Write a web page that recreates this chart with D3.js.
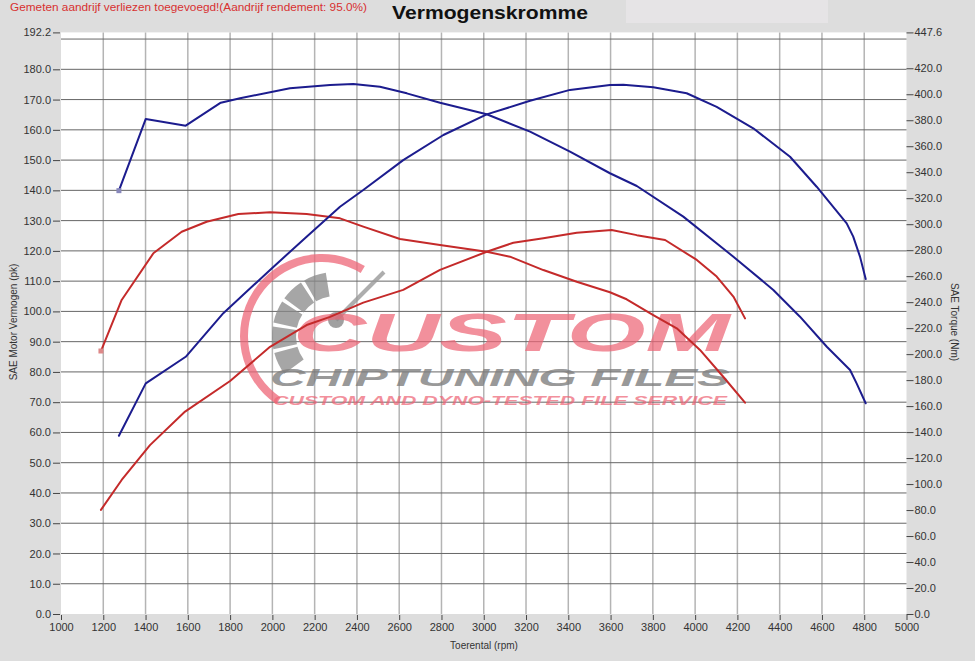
<!DOCTYPE html>
<html><head><meta charset="utf-8">
<script src="https://cdn.jsdelivr.net/npm/d3@7"></script>
<style>html,body{margin:0;padding:0;background:#dddddd;}svg{display:block;}</style>
</head><body>
<svg id="chart" width="975" height="661"></svg>
<script>
// ---- data ----
const xTicks = [1000,1200,1400,1600,1800,2000,2200,2400,2600,2800,3000,3200,3400,3600,3800,4000,4200,4400,4600,4800,5000];
const leftTicks = [0,10,20,30,40,50,60,70,80,90,100,110,120,130,140,150,160,170,180,192.2];
const rightTicks = [0,20,40,60,80,100,120,140,160,180,200,220,240,260,280,300,320,340,360,380,400,420,447.6];

const tunedPowerRpm = [1274,1401,1590,1768,1989,2162,2320,2430,2619,2809,3014,3219,3408,3597,3660,3802,3960,4102,4275,4449,4575,4717,4748,4780,4807];
const tunedPower = [58.9,76.2,85.0,99.4,113.7,124.7,134.6,140.1,150.0,158.3,165.1,169.6,173.2,174.8,174.9,174.1,172.1,167.6,160.5,151.1,141.2,129.1,124.7,118.1,110.7];

const tunedTorqueRpm = [1274,1401,1590,1756,1847,2083,2273,2383,2509,2636,2793,3014,3219,3408,3597,3724,3944,4181,4370,4496,4623,4733,4764,4807];
const tunedTorque = [325.8,381.0,375.8,393.5,396.9,404.6,407.1,407.9,405.8,400.7,393.5,384.6,371.2,355.8,339.2,329.4,305.8,275.0,249.4,228.8,205.7,187.8,177.5,162.2];

const stockPowerRpm = [1189,1287,1421,1587,1800,1989,2162,2273,2430,2619,2793,3014,3140,3282,3440,3605,3724,3858,4008,4102,4181,4236];
const stockPower = [34.4,44.3,55.8,66.9,77.0,88.3,95.5,98.2,102.9,107.1,113.7,119.7,122.7,124.2,126.0,126.9,125.2,123.6,117.0,111.5,104.9,97.7];

const stockTorqueRpm = [1189,1287,1437,1571,1689,1839,1989,2162,2320,2430,2604,2793,3014,3124,3282,3440,3597,3676,3802,3913,4023,4133,4236];
const stockTorque = [202.4,241.7,277.6,294.2,301.9,307.8,309.1,307.8,304.5,298.1,288.6,284.0,278.8,275.0,264.7,255.7,247.6,242.2,230.1,219.9,203.2,182.6,162.6];

// ---- chart ----
const svg = d3.select("#chart");
const W = 975, H = 661;
const L = 61, R = 906.5, T = 32.4, B = 614;
const x = d3.scaleLinear().domain([1000,5000]).range([L,R]);
const yL = d3.scaleLinear().domain([0,192.2]).range([B,T]);
const yR = d3.scaleLinear().domain([0,447.6]).range([B,T]);

svg.append("rect").attr("width",W).attr("height",H).attr("fill","#dddddd");
svg.append("rect").attr("x",626).attr("y",0).attr("width",202).attr("height",23).attr("fill","#e6e4e6");

svg.append("rect").attr("x",L).attr("y",T).attr("width",R-L).attr("height",B-T).attr("fill","#ffffff");

// vertical grid
svg.append("g").selectAll("line").data(xTicks.filter(d=>d>1000&&d<5000)).join("line")
  .attr("x1",d=>x(d)).attr("x2",d=>x(d)).attr("y1",T).attr("y2",B)
  .attr("stroke","#b4b4b4").attr("stroke-width",1.5);
// horizontal grid
svg.append("g").selectAll("line").data(d3.range(10,191,10)).join("line")
  .attr("x1",L).attr("x2",R).attr("y1",d=>yL(d)).attr("y2",d=>yL(d))
  .attr("stroke","#666").attr("stroke-width",1);

// watermark
const wm = svg.append("g");
const pinkArc = d3.arc().innerRadius(74).outerRadius(82)
  .startAngle(-2.55).endAngle(0.55);
wm.append("path").attr("d",pinkArc()).attr("transform","translate(322,336)")
  .attr("fill","#ee6677").attr("opacity",0.75);
d3.range(5).forEach(i=>{
  const a0 = -2.2 + i*0.42, a1 = a0 + 0.36;
  wm.append("path").attr("d", d3.arc().innerRadius(40).outerRadius(64).startAngle(a0).endAngle(a1)())
    .attr("transform","translate(336,336)").attr("fill","#888").attr("opacity",0.75);
});
wm.append("line").attr("x1",336).attr("y1",320).attr("x2",384).attr("y2",272)
  .attr("stroke","#999").attr("stroke-width",4).attr("opacity",0.8);
wm.append("circle").attr("cx",336).attr("cy",320).attr("r",8).attr("fill","#888").attr("opacity",0.8);
const wfont = "Liberation Sans, Arial, sans-serif";
wm.append("text").attr("x",293).attr("y",351).attr("textLength",437).attr("lengthAdjust","spacingAndGlyphs")
  .attr("font-family",wfont).attr("font-weight","bold").attr("font-style","italic")
  .attr("font-size",54).attr("fill","#ee6677").attr("opacity",0.72).text("CUSTOM");
wm.append("text").attr("x",270).attr("y",386).attr("textLength",460).attr("lengthAdjust","spacingAndGlyphs")
  .attr("font-family",wfont).attr("font-weight","bold").attr("font-style","italic")
  .attr("font-size",24).attr("fill","#808080").attr("opacity",0.8).text("CHIPTUNING FILES");
wm.append("text").attr("x",273).attr("y",405).attr("textLength",454).attr("lengthAdjust","spacingAndGlyphs")
  .attr("font-family",wfont).attr("font-weight","bold").attr("font-style","italic")
  .attr("font-size",13).attr("fill","#ee6677").attr("opacity",0.72).text("CUSTOM AND DYNO-TESTED FILE SERVICE");

// curves
const zip = (a,b)=>a.map((r,i)=>[r,b[i]]);
const lineL = d3.line().x(d=>x(d[0])).y(d=>yL(d[1]));
const lineR = d3.line().x(d=>x(d[0])).y(d=>yR(d[1]));
const blue = "#1c1c8e", red = "#c42a2a";
const curves = [
  {d: zip(stockTorqueRpm, stockTorque), l: lineR, c: red},
  {d: zip(stockPowerRpm, stockPower), l: lineL, c: red},
  {d: zip(tunedTorqueRpm, tunedTorque), l: lineR, c: blue},
  {d: zip(tunedPowerRpm, tunedPower), l: lineL, c: blue}
];
curves.forEach(cv=>{
  svg.append("path").attr("d",cv.l(cv.d)).attr("fill","none").attr("stroke",cv.c)
    .attr("stroke-width",2).attr("stroke-linejoin","round").attr("stroke-linecap","round");
});
// start markers
svg.append("rect").attr("x",x(tunedTorqueRpm[0])-2.5).attr("y",yR(tunedTorque[0])-2.5).attr("width",5).attr("height",5).attr("fill","#8888bb");
svg.append("rect").attr("x",x(stockTorqueRpm[0])-2.5).attr("y",yR(stockTorque[0])-2.5).attr("width",5).attr("height",5).attr("fill","#dd8888");

// axes
const font = "Liberation Sans, Arial, sans-serif";
const axL = d3.axisLeft(yL).tickValues(leftTicks).tickFormat(d=>d.toFixed(1)).tickSize(7).tickPadding(2);
const gL = svg.append("g").attr("transform",`translate(${L-1},0)`).call(axL);
const axR = d3.axisRight(yR).tickValues(rightTicks).tickFormat(d=>d.toFixed(1)).tickSize(7).tickPadding(1);
const gR = svg.append("g").attr("transform",`translate(${R},0)`).call(axR);
const axB = d3.axisBottom(x).tickValues(xTicks).tickFormat(d=>d).tickSize(5).tickPadding(3);
const gB = svg.append("g").attr("transform",`translate(0,${B+1})`).call(axB);
[gL,gR,gB].forEach(g=>{
  g.select(".domain").remove();
  g.selectAll(".tick line").attr("stroke","#444");
  g.selectAll(".tick text").attr("fill","#333").attr("font-family",font).attr("font-size",11);
});

// texts
svg.append("text").attr("x",10).attr("y",11).attr("font-family",font).attr("font-size",11)
  .attr("textLength",357).attr("lengthAdjust","spacingAndGlyphs")
  .attr("fill","#d83030").text("Gemeten aandrijf verliezen toegevoegd!(Aandrijf rendement: 95.0%)");
svg.append("text").attr("x",490).attr("y",19).attr("text-anchor","middle").attr("font-family",font)
  .attr("font-weight","bold").attr("font-size",18).attr("fill","#111")
  .attr("textLength",196).attr("lengthAdjust","spacingAndGlyphs").text("Vermogenskromme");
svg.append("text").attr("x",484).attr("y",649).attr("text-anchor","middle").attr("font-family",font)
  .attr("font-size",10).attr("fill","#333").text("Toerental (rpm)");
svg.append("text").attr("transform","translate(17,322) rotate(-90)").attr("text-anchor","middle")
  .attr("font-family",font).attr("font-size",10).attr("fill","#333").text("SAE Motor Vermogen (pk)");
svg.append("text").attr("transform","translate(951,322) rotate(90)").attr("text-anchor","middle")
  .attr("font-family",font).attr("font-size",10).attr("fill","#333").text("SAE Torque (Nm)");
</script>
</body></html>
